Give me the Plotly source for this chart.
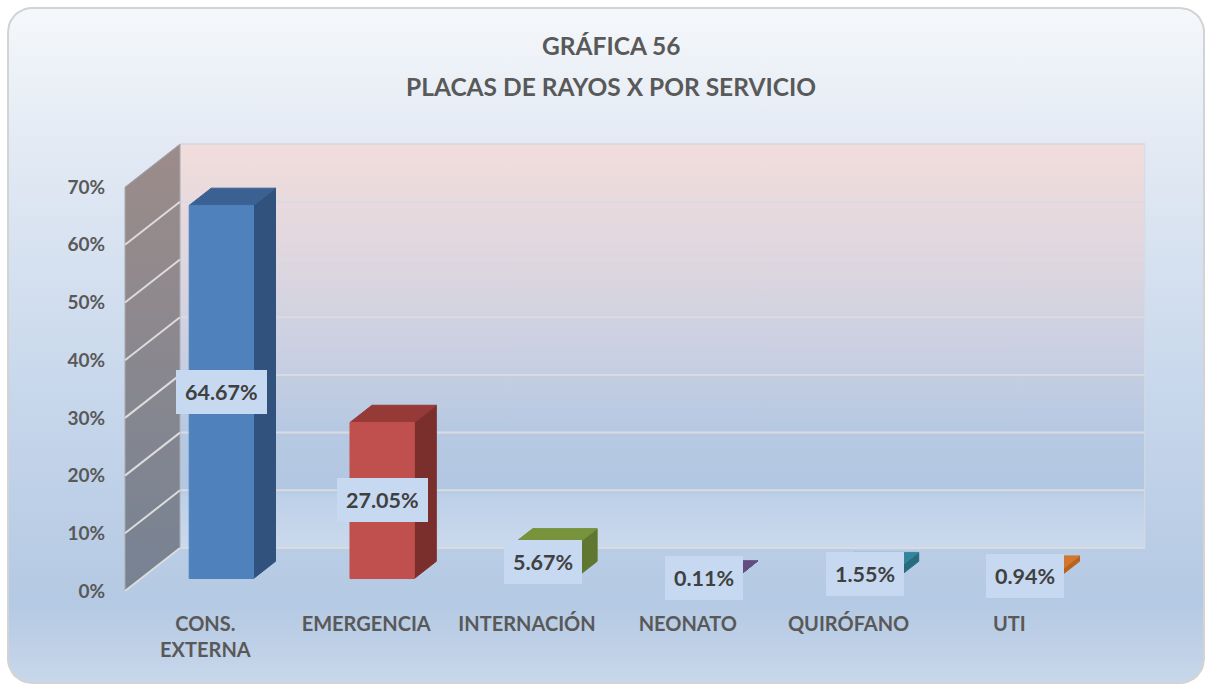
import math
import plotly.graph_objects as go

# ---- data -------------------------------------------------------------
categorias = ["CONS.<br>EXTERNA", "EMERGENCIA", "INTERNACIÓN", "NEONATO", "QUIRÓFANO", "UTI"]
porcentajes = [64.67, 27.05, 5.67, 0.11, 1.55, 0.94]
etiquetas = ["64.67%", "27.05%", "5.67%", "0.11%", "1.55%", "0.94%"]
ticks_y = [0, 10, 20, 30, 40, 50, 60, 70]
ticks_y_texto = ["0%", "10%", "20%", "30%", "40%", "50%", "60%", "70%"]

# face colours per bar: front, top, right side
color_frente = ["#4f81bd", "#c0504d", "#8fae4f", "#8064a2", "#4bacc6", "#f79646"]
color_tapa = ["#3b6192", "#953a37", "#77933c", "#634c82", "#31859c", "#d2772f"]
color_lado = ["#30527c", "#7b2f2d", "#5f7730", "#543f6e", "#276c7e", "#b8641f"]

# ---- geometry of the pseudo-3D view -------------------------------------
W, H = 1206, 685
X0, CW = 205.4, 160.8        # px of first category on the front plane, px per category
Y0, PPU = 591.0, 5.77        # px of 0 % on the front plane, px per percent
DEPTH_X, DEPTH_Y = 55.0, 43.0  # screen offset of the full floor depth
DU, DV = DEPTH_X / CW, DEPTH_Y / PPU
MEDIO_ANCHO = 0.2            # half bar width (category units)
D1, D2 = 0.29, 0.69          # bar front / back depth fractions

x_rango = [(0 - X0) / CW, (W - X0) / CW]
y_rango = [(Y0 - H) / PPU, Y0 / PPU]


def a_datos(px, py):
    return (px - X0) / CW, (Y0 - py) / PPU


def proy(u, v, d):
    return u + d * DU, v + d * DV


def cara(puntos):
    xs, ys = [], []
    for u, v, d in puntos:
        x, y = proy(u, v, d)
        xs.append(x)
        ys.append(y)
    xs.append(xs[0])
    ys.append(ys[0])
    return xs, ys


fig = go.Figure()

# ---- chart area background: rounded frame with vertical gradient --------
def rect_redondeado(x1, y1, x2, y2, r, n=10):
    pts = []
    esquinas = [(x2 - r, y1 + r, -90, 0), (x2 - r, y2 - r, 0, 90),
                (x1 + r, y2 - r, 90, 180), (x1 + r, y1 + r, 180, 270)]
    for cx, cy, a0, a1 in esquinas:
        for k in range(n + 1):
            a = math.radians(a0 + (a1 - a0) * k / n)
            pts.append((cx + r * math.cos(a), cy + r * math.sin(a)))
    pts.append(pts[0])
    return pts


marco = [a_datos(px, py) for px, py in rect_redondeado(8, 8, 1204, 683, 24)]
fig.add_trace(go.Scatter(
    x=[p[0] for p in marco], y=[p[1] for p in marco], mode="lines",
    fill="toself", line=dict(color="#d3d3d3", width=2),
    fillgradient=dict(type="vertical", colorscale=[
        [0.0, "#c8d7eb"], [0.12, "#b4c9e3"], [0.45, "#c9d8ec"],
        [0.8, "#e3eaf4"], [1.0, "#f5f8fb"]]),
    hoverinfo="skip", showlegend=False))

n = len(categorias)
u_izq, u_der = -0.5, n - 0.5
v_max = ticks_y[-1]

# back wall
xs, ys = cara([(u_izq, 0, 1), (u_der, 0, 1), (u_der, v_max, 1), (u_izq, v_max, 1)])
fig.add_trace(go.Scatter(
    x=xs, y=ys, mode="lines", fill="toself", line=dict(color="#d6dbe3", width=1),
    fillgradient=dict(type="vertical", colorscale=[
        [0.0, "#cbd9ec"], [0.13, "#bdd0e8"], [0.145, "#b2c7e2"], [0.3, "#b7c9e2"],
        [0.5, "#cbd0e2"], [0.7, "#ddd6df"], [1.0, "#f2dddc"]]),
    hoverinfo="skip", showlegend=False))

# back wall gridlines
gx, gy = [], []
for t in ticks_y:
    a = proy(u_izq, t, 1)
    b = proy(u_der, t, 1)
    gx += [a[0], b[0], None]
    gy += [a[1], b[1], None]
fig.add_trace(go.Scatter(x=gx, y=gy, mode="lines", line=dict(color="#d9dbe0", width=2),
                         hoverinfo="skip", showlegend=False))

# left side wall
xs, ys = cara([(u_izq, 0, 0), (u_izq, 0, 1), (u_izq, v_max, 1), (u_izq, v_max, 0)])
fig.add_trace(go.Scatter(
    x=xs, y=ys, mode="lines", fill="toself", line=dict(color="#a8a8b0", width=1),
    fillgradient=dict(type="vertical", colorscale=[[0.0, "#768293"], [1.0, "#9c8c8a"]]),
    hoverinfo="skip", showlegend=False))

# side wall gridlines
gx, gy = [], []
for t in ticks_y[:-1]:
    a = proy(u_izq, t, 0)
    b = proy(u_izq, t, 1)
    gx += [a[0], b[0], None]
    gy += [a[1], b[1], None]
fig.add_trace(go.Scatter(x=gx, y=gy, mode="lines", line=dict(color="#dcdcdc", width=2),
                         hoverinfo="skip", showlegend=False))

# ---- 3D columns ---------------------------------------------------------
for i, val in enumerate(porcentajes):
    ul, ur = i - MEDIO_ANCHO, i + MEDIO_ANCHO
    caras = [
        (color_lado[i], [(ur, 0, D1), (ur, 0, D2), (ur, val, D2), (ur, val, D1)]),
        (color_tapa[i], [(ul, val, D1), (ur, val, D1), (ur, val, D2), (ul, val, D2)]),
        (color_frente[i], [(ul, 0, D1), (ur, 0, D1), (ur, val, D1), (ul, val, D1)]),
    ]
    for col, pts in caras:
        xs, ys = cara(pts)
        fig.add_trace(go.Scatter(x=xs, y=ys, mode="lines", fill="toself",
                                 fillcolor=col, line=dict(color=col, width=1),
                                 hoverinfo="skip", showlegend=False))

# ---- value labels, centred on each column's front face ------------------
for i, (val, txt) in enumerate(zip(porcentajes, etiquetas)):
    x, y = proy(i, val / 2, D1)
    fig.add_annotation(x=x, y=y, text=txt, showarrow=False,
                       bgcolor="#c6d9f1", borderpad=9, borderwidth=0,
                       font=dict(family="Lato", size=21.5, color="#404040", weight="bold"))

# ---- title --------------------------------------------------------------
for txt, py in [("GRÁFICA 56", 46), ("PLACAS DE RAYOS X POR SERVICIO", 86)]:
    fig.add_annotation(x=611 / W, y=1 - py / H, xref="paper", yref="paper",
                       text=txt, showarrow=False, xanchor="center", yanchor="middle",
                       font=dict(family="Lato", size=24.5, color="#595959", weight="bold"))

fig.update_layout(
    width=W, height=H,
    margin=dict(l=0, r=0, t=0, b=0),
    paper_bgcolor="white", plot_bgcolor="rgba(0,0,0,0)",
    showlegend=False,
    xaxis=dict(range=x_rango, domain=[0, 1], anchor="free", position=(H - 610) / H,
               tickvals=list(range(n)), ticktext=categorias, showgrid=False,
               zeroline=False, showline=False, ticks="",
               tickfont=dict(family="Lato", size=20, color="#595959", weight="bold")),
    yaxis=dict(range=y_rango, domain=[0, 1], anchor="free", position=105 / W,
               tickvals=ticks_y, ticktext=ticks_y_texto, showgrid=False,
               zeroline=False, showline=False, ticks="",
               tickfont=dict(family="Lato", size=19, color="#595959", weight="bold")),
)

fig.write_html("out.html")
